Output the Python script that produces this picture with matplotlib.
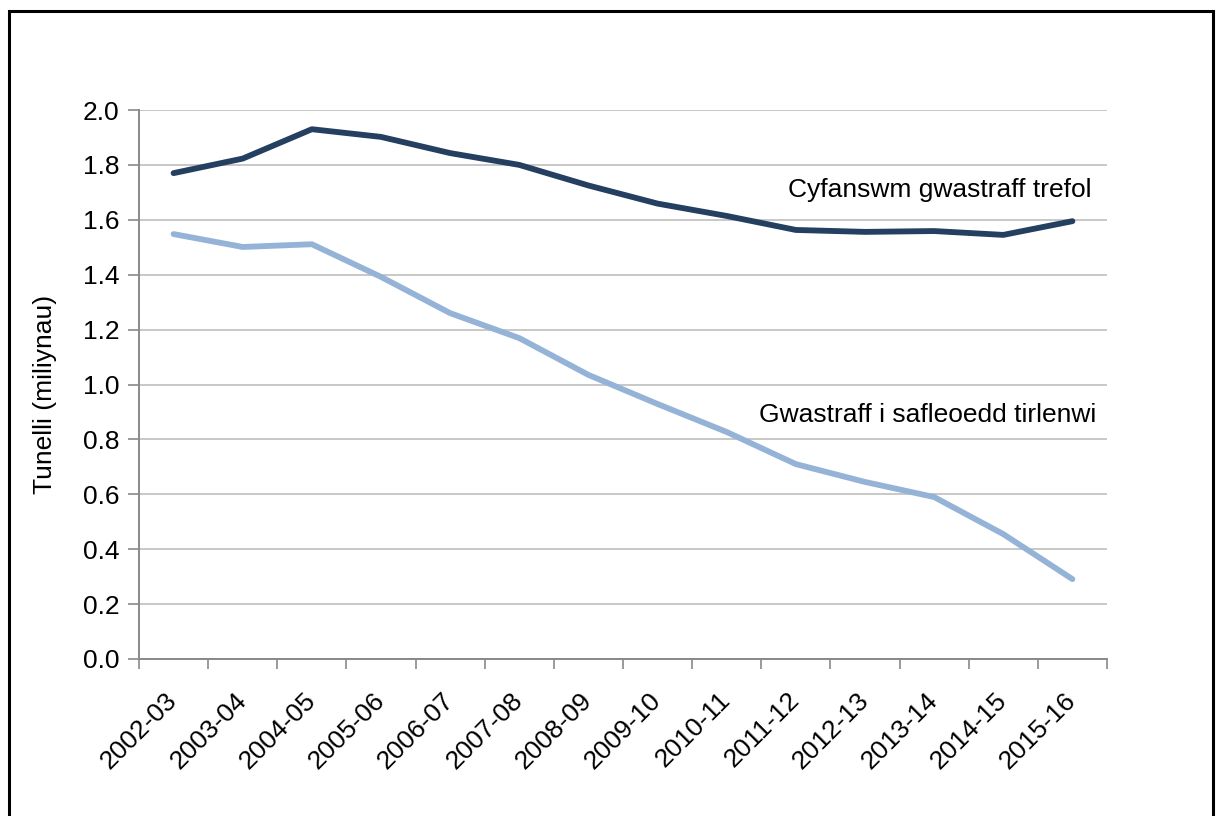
import matplotlib
matplotlib.use("Agg")
import matplotlib.pyplot as plt
from matplotlib.patches import Rectangle
import numpy as np

years = ["2002-03", "2003-04", "2004-05", "2005-06", "2006-07", "2007-08", "2008-09",
         "2009-10", "2010-11", "2011-12", "2012-13", "2013-14", "2014-15", "2015-16"]
total_waste = [1.770, 1.823, 1.930, 1.902, 1.843, 1.800, 1.725, 1.659, 1.614, 1.563,
               1.556, 1.559, 1.545, 1.595]
landfill = [1.548, 1.501, 1.511, 1.392, 1.260, 1.169, 1.035, 0.929, 0.827, 0.710,
            0.645, 0.590, 0.455, 0.291]
label_total = "Cyfanswm gwastraff trefol"
label_landfill = "Gwastraff i safleoedd tirlenwi"
y_label = "Tunelli (miliynau)"
yticks = [0.0, 0.2, 0.4, 0.6, 0.8, 1.0, 1.2, 1.4, 1.6, 1.8, 2.0]

plt.rcParams['font.family'] = ['Liberation Sans', 'DejaVu Sans']
FS = 19

W, H = 1218, 816
fig = plt.figure(figsize=(W / 100, H / 100), dpi=100)
fig.patches.append(Rectangle((8.5 / W, -0.05), (1212.5 - 8.5) / W, 1.05 - 10.5 / H,
                             transform=fig.transFigure, fill=False, edgecolor='black',
                             linewidth=2.2))

ax = fig.add_axes([139 / W, 1 - 659 / H, (1107 - 139) / W, (659 - 110) / H])
x = np.arange(len(years))
ax.plot(x, total_waste, color='#243F60', linewidth=4.2, solid_capstyle='round',
        solid_joinstyle='round', zorder=3)
ax.plot(x, landfill, color='#95B3D7', linewidth=4.2, solid_capstyle='round',
        solid_joinstyle='round', zorder=3)

ax.set_xlim(-0.5, len(years) - 0.5)
ax.set_ylim(0, 2.0)
ax.set_yticks(yticks)
ax.set_yticklabels([f"{v:.1f}" for v in yticks], fontsize=FS)
ax.yaxis.grid(True, color='#BFBFBF', linewidth=1.2)
ax.set_axisbelow(True)

ax.set_xticks(x)
ax.set_xticklabels(years, rotation=45, ha='right', va='center', rotation_mode='anchor',
                   fontsize=FS)
ax.tick_params(axis='x', which='major', length=0, pad=27)
ax.set_xticks(np.arange(-0.5, len(years), 1.0), minor=True)
ax.tick_params(axis='x', which='minor', length=7, width=1.2, color='#898989')
ax.tick_params(axis='y', length=8, width=1.2, color='#898989', pad=6)

for s in ['top', 'right']:
    ax.spines[s].set_visible(False)
for s in ['left', 'bottom']:
    ax.spines[s].set_color('#898989')
    ax.spines[s].set_linewidth(1.4)

ax.set_ylabel(y_label, fontsize=FS, va='center')
ax.yaxis.set_label_coords((45 - 139) / (1107 - 139), (659 - 394) / (659 - 110))

ax.text(13.27, 1.708, label_total, ha='right', va='center', fontsize=FS)
ax.text(13.35, 0.888, label_landfill, ha='right', va='center', fontsize=FS)

fig.savefig("out.png", dpi=100)
